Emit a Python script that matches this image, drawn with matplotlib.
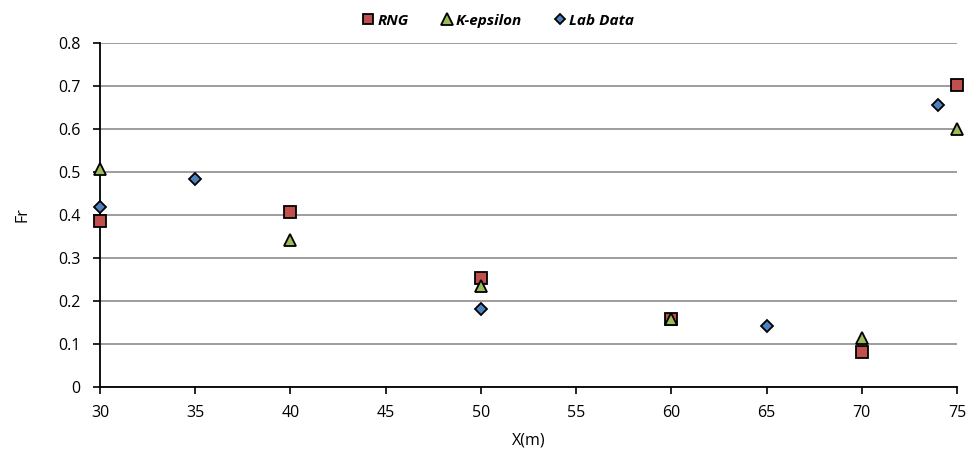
import matplotlib
matplotlib.use("Agg")
import matplotlib.pyplot as plt

rng_x = [30, 40, 50, 60, 70, 75]
rng_y = [0.385, 0.408, 0.253, 0.157, 0.082, 0.703]
ke_x = [30, 40, 50, 60, 70, 75]
ke_y = [0.507, 0.343, 0.235, 0.157, 0.115, 0.600]
lab_x = [30, 35, 50, 65, 74]
lab_y = [0.418, 0.483, 0.181, 0.143, 0.655]

plt.rcParams['font.family'] = ['Open Sans', 'DejaVu Sans']

fig = plt.figure(figsize=(9.79, 4.57), dpi=100)
ax = fig.add_axes([100/979, 70/457, 857/979, 344/457])

ax.plot(rng_x, rng_y, ls='none', marker='s', ms=8.5, mfc='#C0504D', mec='black', mew=1.3, label='RNG', clip_on=False, zorder=3)
ax.plot(ke_x, ke_y, ls='none', marker='^', ms=9, mfc='#9BBB59', mec='black', mew=1.3, label='K-epsilon', clip_on=False, zorder=4)
ax.plot(lab_x, lab_y, ls='none', marker='D', ms=6, mfc='#4F81BD', mec='black', mew=1.3, label='Lab Data', clip_on=False, zorder=5)

ax.set_xlim(30, 75)
ax.set_ylim(0, 0.8)
ax.set_xticks(range(30, 80, 5))
ax.set_yticks([0, 0.1, 0.2, 0.3, 0.4, 0.5, 0.6, 0.7, 0.8])
ax.set_yticklabels(['0', '0.1', '0.2', '0.3', '0.4', '0.5', '0.6', '0.7', '0.8'])
ax.yaxis.grid(True, color='#8c8c8c', lw=1.2)
ax.set_axisbelow(True)
for s in ['top', 'right']:
    ax.spines[s].set_visible(False)
for s in ['left', 'bottom']:
    ax.spines[s].set_linewidth(1.3)
    ax.spines[s].set_color('black')
ax.tick_params(axis='both', direction='out', length=5, width=1.2, labelsize=11.5, colors='black')
ax.tick_params(axis='y', pad=9)
ax.tick_params(axis='x', pad=8)
ax.set_xlabel('X(m)', fontsize=11.5, labelpad=8)
ax.set_ylabel('Fr', fontsize=11.5, labelpad=20)

leg = fig.legend(loc='upper center', bbox_to_anchor=(0.508, 1.0), ncol=3, frameon=False,
                 prop={'weight': 'bold', 'style': 'italic', 'size': 11},
                 handletextpad=0.1, columnspacing=2.0, markerscale=0.9, handlelength=1.0)

fig.savefig('out.png', dpi=100)
